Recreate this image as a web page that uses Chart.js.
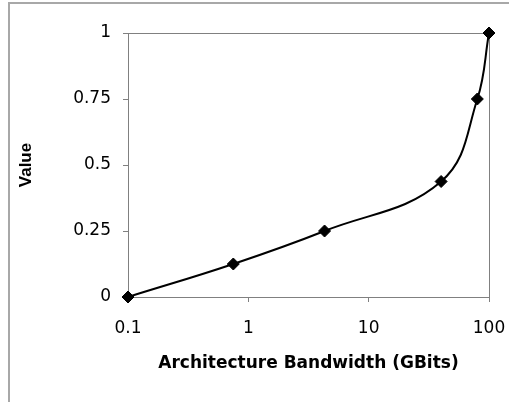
<!DOCTYPE html>
<html>
<head>
<meta charset="utf-8">
<script src="https://cdn.jsdelivr.net/npm/chart.js@4.4.1/dist/chart.umd.min.js"></script>
<style>
  body { margin: 0; background: #fff; }
  #wrap { position: relative; width: 509px; height: 402px; overflow: hidden; }
  #frame { position: absolute; left: 8px; top: 2px; width: 600px; height: 500px;
           border-top: 2px solid #a8a8a8; border-left: 2px solid #a8a8a8; }
  #canvas { position: absolute; left: 0; top: 0; }
</style>
</head>
<body>
<div id="wrap">
  <div id="frame"></div>
  <canvas id="canvas" width="509" height="402"></canvas>
</div>
<script>
// bandwidth (GBits) and value
const bandwidth = [0.1, 0.75, 4.3, 40, 80, 100];
const values = [0, 0.125, 0.25, 0.4375, 0.75, 1];
const xTicks = [0.1, 1, 10, 100];
const yTicks = [0, 0.25, 0.5, 0.75, 1];

const axisGray = '#808080';

const points = bandwidth.map((b, i) => ({ x: b, y: values[i] }));

const config = {
    type: 'line',
    data: {
        datasets: [{
            label: 'Value',
            data: points,
            borderColor: '#000',
            borderWidth: 2,
            backgroundColor: '#000',
            pointStyle: 'rectRot',
            pointRadius: 6,
            pointBorderWidth: 1,
            pointBackgroundColor: '#000',
            pointBorderColor: '#000',
            tension: 0.4,
            clip: false
        }]
    },
    options: {
        responsive: false,
        animation: false,
        layout: { padding: { top: 33, right: 20, bottom: 0, left: 0 } },
        plugins: { legend: { display: false }, tooltip: { enabled: false } },
        scales: {
            x: {
                type: 'logarithmic',
                min: 0.1,
                max: 100,
                afterBuildTicks: (scale) => { scale.ticks = xTicks.map(v => ({ value: v })); },
                afterFit: (scale) => {
                    scale.height = 105;
                    scale.paddingLeft = 0;
                    scale.paddingRight = 0;
                },
                ticks: {
                    color: '#000',
                    padding: 16,
                    maxRotation: 0,
                    autoSkip: false,
                    font: { family: 'DejaVu Sans', size: 17 },
                    callback: (v) => String(v)
                },
                grid: {
                    color: (ctx) => ctx.tick && ctx.tick.value === 100 ? axisGray : 'rgba(0,0,0,0)',
                    tickColor: axisGray,
                    tickLength: 5,
                    lineWidth: 1
                },
                border: { color: axisGray, width: 1 },
                title: {
                    display: true,
                    text: 'Architecture Bandwidth (GBits)',
                    color: '#000',
                    padding: { top: 0, bottom: 28 },
                    font: { family: 'DejaVu Sans', size: 17, weight: 'bold' }
                }
            },
            y: {
                min: 0,
                max: 1,
                afterBuildTicks: (scale) => { scale.ticks = yTicks.map(v => ({ value: v })); },
                afterFit: (scale) => { scale.width = 128; },
                ticks: {
                    color: '#000',
                    padding: 12,
                    font: { family: 'DejaVu Sans', size: 17 },
                    callback: (v) => String(v)
                },
                grid: {
                    color: (ctx) => ctx.tick && ctx.tick.value === 1 ? axisGray : 'rgba(0,0,0,0)',
                    tickColor: axisGray,
                    tickLength: 5,
                    lineWidth: 1
                },
                border: { color: axisGray, width: 1 },
                title: {
                    display: true,
                    text: 'Value',
                    color: '#000',
                    padding: { top: 16, bottom: 0 },
                    font: { family: 'Liberation Sans', size: 17, weight: 'bold' }
                }
            }
        }
    }
};

const canvas = document.getElementById('canvas');
const chart = new Chart(canvas, config);
</script>
</body>
</html>
